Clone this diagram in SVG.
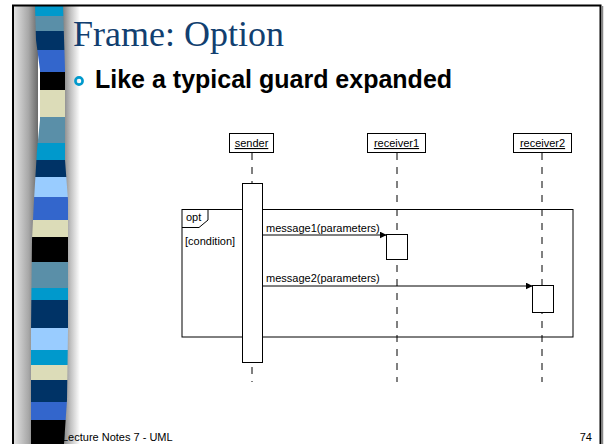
<svg xmlns="http://www.w3.org/2000/svg" width="604" height="444" viewBox="0 0 604 444">
<defs>
<linearGradient id="gl" x1="0" y1="0" x2="1" y2="0"><stop offset="0" stop-color="#e2e2e2"/><stop offset="0.6" stop-color="#a8a8a8"/><stop offset="1" stop-color="#6a6a6a"/></linearGradient>
<linearGradient id="gr" x1="0" y1="0" x2="1" y2="0"><stop offset="0" stop-color="#7a7a7a"/><stop offset="0.5" stop-color="#c4c4c4"/><stop offset="1" stop-color="#ffffff"/></linearGradient>
<clipPath id="band"><path d="M35,5 L63,5 L65,70 L65,160 L68,200 L68,330 L67,400 L64,444 L31,444 L31,330 L32,240 L34,200 L37,150 L40,120 L40,70 L36,40 Z"/></clipPath>
<marker id="ah" viewBox="0 0 10 10" refX="9" refY="5" markerWidth="7" markerHeight="7" orient="auto" markerUnits="userSpaceOnUse"><path d="M0,0 L10,5 L0,10 Z" fill="#000"/></marker>
</defs>
<style>
.box{fill:#fff;stroke:#000;stroke-width:1}
.act{fill:#fff;stroke:#000;stroke-width:1}
.life{stroke:#000;stroke-width:1;stroke-dasharray:7 7;fill:none}
.msg{stroke:#000;stroke-width:1;fill:none;marker-end:url(#ah)}
.t{font-family:"Liberation Sans",Arial,sans-serif;font-size:11px;fill:#000}
.u{text-decoration:underline}
</style>
<rect x="0" y="0" width="604" height="444" fill="#fff"/>
<!-- decorative left band -->
<g id="band-deco">
<rect x="14" y="6" width="24" height="438" fill="url(#gl)"/>
<rect x="62" y="6" width="18" height="438" fill="url(#gr)"/>
<g clip-path="url(#band)">
<rect x="28" y="5" width="42" height="11" fill="#0099cc"/>
<rect x="28" y="16" width="42" height="15" fill="#5a8fa8"/>
<rect x="28" y="31" width="42" height="19" fill="#003366"/>
<rect x="28" y="50" width="42" height="22" fill="#3366cc"/>
<rect x="28" y="72" width="42" height="18" fill="#000"/>
<rect x="28" y="90" width="42" height="27" fill="#dcdcb8"/>
<rect x="28" y="117" width="42" height="26" fill="#5a8fa8"/>
<rect x="28" y="143" width="42" height="17" fill="#0099cc"/>
<rect x="28" y="160" width="42" height="17" fill="#003366"/>
<rect x="28" y="177" width="42" height="20" fill="#99ccff"/>
<rect x="28" y="197" width="42" height="23" fill="#3366cc"/>
<rect x="28" y="220" width="42" height="17" fill="#dcdcb8"/>
<rect x="28" y="237" width="42" height="25" fill="#000"/>
<rect x="28" y="262" width="42" height="26" fill="#5a8fa8"/>
<rect x="28" y="288" width="42" height="12" fill="#0099cc"/>
<rect x="28" y="300" width="42" height="28" fill="#003366"/>
<rect x="28" y="328" width="42" height="22" fill="#99ccff"/>
<rect x="28" y="350" width="42" height="15" fill="#0099cc"/>
<rect x="28" y="365" width="42" height="15" fill="#dcdcb8"/>
<rect x="28" y="380" width="42" height="22" fill="#003366"/>
<rect x="28" y="402" width="42" height="18" fill="#3366cc"/>
<rect x="28" y="420" width="42" height="24" fill="#000"/>
</g>
</g>
<!-- slide border -->
<g id="border">
<path d="M13,444 L13,5.5 L600.5,5.5 L600.5,444" fill="none" stroke="#000" stroke-width="2"/>
<line x1="602.5" y1="6" x2="602.5" y2="444" stroke="#888" stroke-width="1.5"/>
</g>
<!-- title -->
<text x="73" y="46" font-family="'Liberation Serif','Times New Roman',serif" font-size="36" fill="#123f70">Frame: Option</text>
<circle cx="79" cy="81" r="3.6" fill="none" stroke="#0099cc" stroke-width="2.6"/>
<text x="95" y="88" font-family="'Liberation Sans',Arial,sans-serif" font-size="25" font-weight="bold" fill="#000">Like a typical guard expanded</text>
<!-- connectors -->
<g id="connectors">
<line class="life" x1="252" y1="153" x2="252" y2="183"/>
<line class="life" x1="252" y1="367" x2="252" y2="382"/>
<line class="life" x1="397" y1="153" x2="397" y2="382"/>
<line class="life" x1="542" y1="153" x2="542" y2="382"/>
<line class="msg" x1="262" y1="235" x2="386" y2="235"/>
<line class="msg" x1="262" y1="286" x2="532" y2="286"/>
</g>
<!-- frame opt -->
<g id="frame-opt">
<rect x="182" y="209.5" width="391" height="127.5" fill="none" stroke="#000" stroke-width="1"/>
<path d="M182,227.5 L199,227.5 L208,220 L208,209.5" fill="none" stroke="#000" stroke-width="1"/>
<text class="t" x="186" y="221">opt</text>
<text class="t" x="185" y="245">[condition]</text>
</g>
<g id="sender">
<rect class="box" x="229.5" y="133.5" width="44" height="19"/>
<text class="t u" x="251.5" y="147" text-anchor="middle">sender</text>
</g>
<g id="receiver1">
<rect class="box" x="367.5" y="133.5" width="58" height="19"/>
<text class="t u" x="396.5" y="147" text-anchor="middle">receiver1</text>
</g>
<g id="receiver2">
<rect class="box" x="513.5" y="133.5" width="58" height="19"/>
<text class="t u" x="542.5" y="147" text-anchor="middle">receiver2</text>
</g>
<g id="sender-activation">
<rect class="act" x="242.5" y="183.5" width="20" height="179"/>
</g>
<g id="receiver1-activation">
<rect class="act" x="386.5" y="234.5" width="21" height="25"/>
</g>
<g id="receiver2-activation">
<rect class="act" x="532.5" y="285.5" width="21" height="27"/>
</g>
<text class="t" x="266" y="232">message1(parameters)</text>
<text class="t" x="266" y="282">message2(parameters)</text>
<!-- footer -->
<text x="62" y="441" font-family="'Liberation Sans',Arial,sans-serif" font-size="11" fill="#000">Lecture Notes 7 - UML</text>
<text x="592" y="441" text-anchor="end" font-family="'Liberation Sans',Arial,sans-serif" font-size="11" fill="#000">74</text>
</svg>
